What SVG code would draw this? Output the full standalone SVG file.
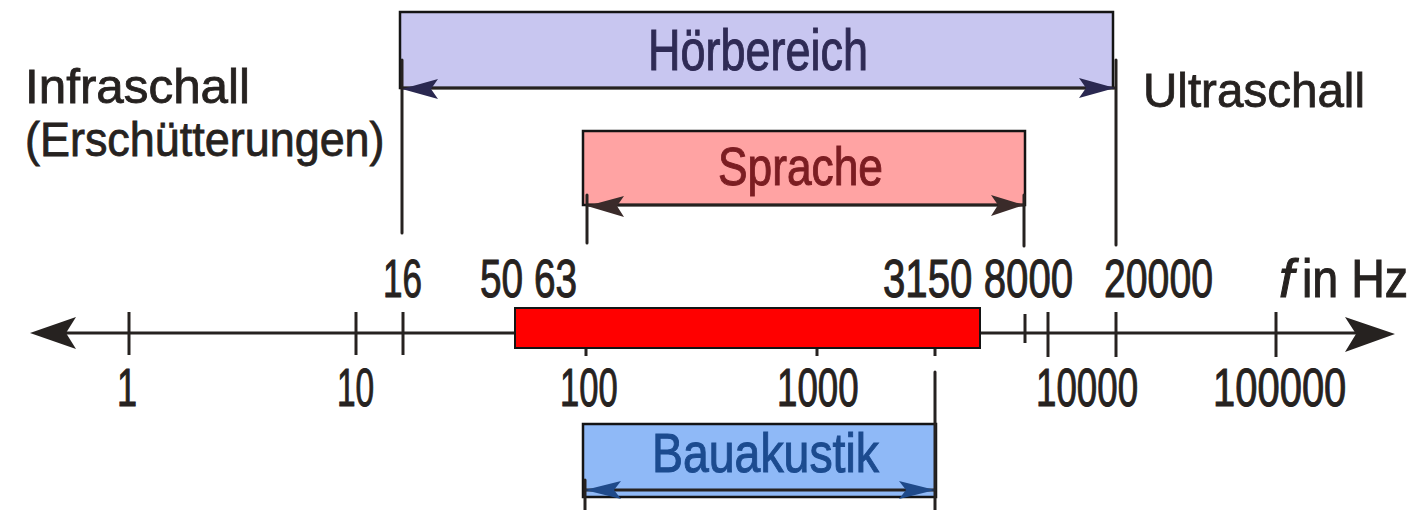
<svg xmlns="http://www.w3.org/2000/svg" width="1427" height="510" viewBox="0 0 1427 510">
  <style>
    .lbl { font-family: "Liberation Sans", Arial, sans-serif; fill: #262220; stroke: #262220; stroke-width: 0.8; }
    .num { font-family: "Liberation Sans", Arial, sans-serif; font-size: 54px; fill: #262220; stroke: #262220; stroke-width: 1; }
    .ttl { font-family: "Liberation Sans", Arial, sans-serif; stroke-width: 1; }
    .ln { stroke: #262220; stroke-width: 3; fill: none; stroke-linecap: round; }
    .tick { stroke: #262220; stroke-width: 3; }
    .box { stroke: #141414; stroke-width: 2.5; }
  </style>
  <rect width="1427" height="510" fill="#ffffff"/>

  <!-- frequency axis -->
  <g id="axis">
    <line class="ln" x1="60" y1="333" x2="1365" y2="333" stroke-width="4"/>
    <polygon points="30,333 76,317 66,333 76,349" fill="#262220"/>
    <polygon points="1395,334 1345,317 1356,334 1345,352" fill="#262220"/>
    <line class="tick" x1="129" y1="312" x2="129" y2="355"/>
    <line class="tick" x1="356" y1="312" x2="356" y2="355"/>
    <line class="tick" x1="403" y1="312" x2="403" y2="355"/>
    <line class="tick" x1="586" y1="346" x2="586" y2="356"/>
    <line class="tick" x1="817" y1="346" x2="817" y2="356"/>
    <line class="tick" x1="935" y1="346" x2="935" y2="356"/>
    <line class="tick" x1="1025" y1="314" x2="1025" y2="343"/>
    <line class="tick" x1="1048" y1="312" x2="1048" y2="357"/>
    <line class="tick" x1="1116" y1="312" x2="1116" y2="357"/>
    <line class="tick" x1="1276" y1="312" x2="1276" y2="357"/>
    <!-- values above the axis (narrow lettering via horizontal scale) -->
    <text class="num" transform="translate(383,297) scale(0.65,1)">16</text>
    <text class="num" transform="translate(480,297) scale(0.718,1)">50 63</text>
    <text class="num" transform="translate(883,297) scale(0.745,1)">3150 8000</text>
    <text class="num" transform="translate(1104,297) scale(0.726,1)">20000</text>
    <text class="num" x="1279" y="297" font-style="italic" stroke-width="0.3">f</text>
    <text class="num" transform="translate(1302,297) scale(0.862,1)">in Hz</text>
    <!-- decade values below the axis -->
    <text class="num" transform="translate(117,406) scale(0.67,1)">1</text>
    <text class="num" transform="translate(337,406) scale(0.62,1)">10</text>
    <text class="num" transform="translate(560,406) scale(0.64,1)">100</text>
    <text class="num" transform="translate(777,406) scale(0.68,1)">1000</text>
    <text class="num" transform="translate(1036,406) scale(0.68,1)">10000</text>
    <text class="num" transform="translate(1213,406) scale(0.74,1)">100000</text>
  </g>

  <!-- side captions -->
  <g id="infraschall">
    <text class="lbl" x="25" y="103" font-size="49" textLength="225" lengthAdjust="spacingAndGlyphs">Infraschall</text>
    <text class="lbl" transform="translate(25,156) scale(0.917,1)" font-size="49">(Erschütterungen)</text>
  </g>
  <g id="ultraschall">
    <text class="lbl" x="1143" y="107" font-size="49" textLength="222" lengthAdjust="spacingAndGlyphs">Ultraschall</text>
  </g>

  <!-- range bands -->
  <g id="hoerbereich">
    <rect class="box" x="400" y="12" width="713" height="76" fill="#c8c6f0"/>
    <text class="ttl" x="648" y="70" font-size="58" fill="#2f2b55" stroke="#2f2b55" textLength="220" lengthAdjust="spacingAndGlyphs">Hörbereich</text>
  </g>
  <g id="sprache">
    <rect class="box" x="583" y="131" width="442" height="74" fill="#ffa3a3"/>
    <text class="ttl" x="718" y="185" font-size="53" fill="#7b1d22" stroke="#7b1d22" textLength="165" lengthAdjust="spacingAndGlyphs">Sprache</text>
  </g>
  <g id="kernbereich">
    <rect x="515" y="308" width="465" height="40" fill="#ff0000" stroke="#141414" stroke-width="2"/>
  </g>
  <g id="bauakustik">
    <rect class="box" x="583" y="424" width="353" height="73" fill="#8fb9f7"/>
    <text class="ttl" x="652" y="472" font-size="55" fill="#1c4b8f" stroke="#1c4b8f" textLength="227" lengthAdjust="spacingAndGlyphs">Bauakustik</text>
  </g>

  <!-- dimension lines and extension lines -->
  <g id="connectors">
    <line class="ln" x1="402" y1="60" x2="402" y2="233"/>
    <line class="ln" x1="1116" y1="60" x2="1116" y2="245"/>
    <line class="ln" x1="402" y1="88" x2="1115" y2="88"/>
    <polygon points="402,89 438,79 431,89 438,99" fill="#2a2850"/>
    <polygon points="1115,88 1079,78 1086,88 1079,98" fill="#2a2850"/>

    <line class="ln" x1="587" y1="195" x2="587" y2="243"/>
    <line class="ln" x1="1024" y1="195" x2="1024" y2="246"/>
    <line class="ln" x1="587" y1="205" x2="1024" y2="205"/>
    <polygon points="587,206 624,196 617,206 624,217" fill="#3a2b2a"/>
    <polygon points="1024,205 991,195 998,205 991,216" fill="#3a2b2a"/>

    <line class="ln" x1="585" y1="480" x2="585" y2="510"/>
    <line class="ln" x1="935" y1="372" x2="935" y2="510"/>
    <line class="ln" x1="585" y1="490" x2="935" y2="490" stroke="#1f4a8a"/>
    <polygon points="585,490 621,481 614,490 621,499" fill="#1f4a8a"/>
    <polygon points="935,490 899,481 906,490 899,499" fill="#1f4a8a"/>
  </g>
</svg>
